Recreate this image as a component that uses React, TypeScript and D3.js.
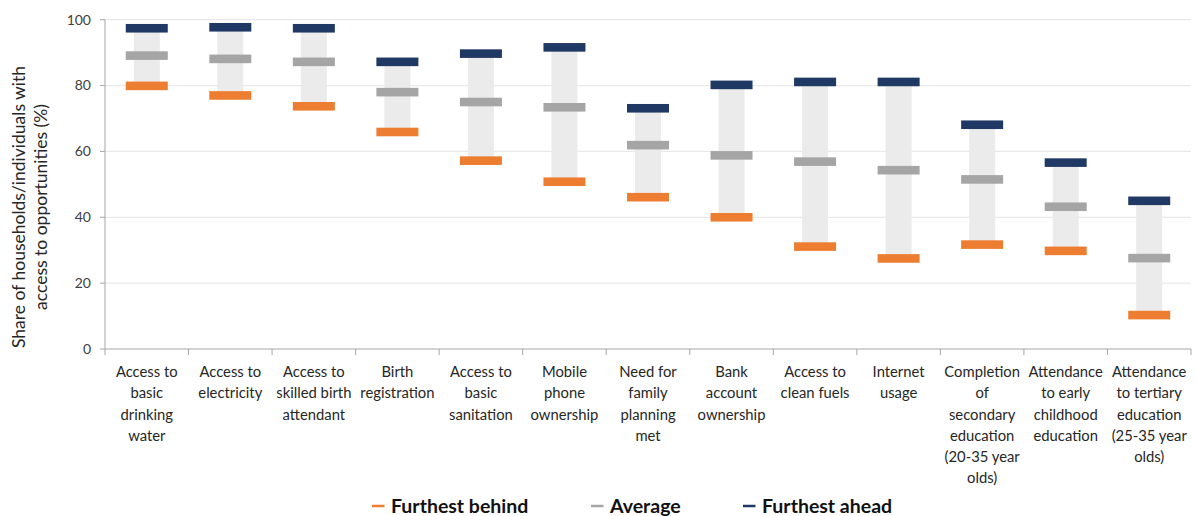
import * as d3 from 'd3';

const categories = [
  ['Access to', 'basic', 'drinking', 'water'],
  ['Access to', 'electricity'],
  ['Access to', 'skilled birth', 'attendant'],
  ['Birth', 'registration'],
  ['Access to', 'basic', 'sanitation'],
  ['Mobile', 'phone', 'ownership'],
  ['Need for', 'family', 'planning', 'met'],
  ['Bank', 'account', 'ownership'],
  ['Access to', 'clean fuels'],
  ['Internet', 'usage'],
  ['Completion', 'of', 'secondary', 'education', '(20-35 year', 'olds)'],
  ['Attendance', 'to early', 'childhood', 'education'],
  ['Attendance', 'to tertiary', 'education', '(25-35 year', 'olds)'],
];

const furthestBehind = [79.9, 77.0, 73.7, 65.9, 57.2, 50.8, 46.1, 40.0, 31.1, 27.5, 31.7, 29.8, 10.3];
const average = [89.1, 88.1, 87.2, 78.0, 75.0, 73.4, 61.9, 58.8, 56.9, 54.3, 51.5, 43.2, 27.6];
const furthestAhead = [97.4, 97.7, 97.4, 87.2, 89.7, 91.6, 73.1, 80.2, 81.1, 81.1, 68.1, 56.6, 45.0];

const yTicks = [0, 20, 40, 60, 80, 100];

const seriesNames = ['Furthest behind', 'Average', 'Furthest ahead'];
const seriesColors = ['#ED7D31', '#A5A5A5', '#203864'];

const W = 1197;
const H = 516;
const left = 105;
const right = 1191;
const top = 19.7;
const bottom = 349;
const font = 'Lato, "Open Sans", sans-serif';

export default function App() {
  const ids = categories.map((_, i) => String(i));
  const x = d3.scaleBand<string>().domain(ids).range([left, right]).padding(0);
  const y = d3.scaleLinear().domain([0, 100]).range([bottom, top]);
  const series = [furthestBehind, average, furthestAhead];
  const markW = 42;
  const markH = 8.6;
  const barW = 26;
  const bw = x.bandwidth();

  // legend swatch / text positions
  const legendX = [372, 591, 743];

  return (
    <svg
      width={W}
      height={H}
      style={{ position: 'absolute', left: 0, top: 0, background: '#fff' }}
      fontFamily={font}
    >
      {/* gridlines */}
      {yTicks.filter((t) => t > 0).map((t) => (
        <line key={t} x1={left} x2={right} y1={y(t)} y2={y(t)} stroke="#E9E9E9" strokeWidth={1.2} />
      ))}

      {/* range bars */}
      {ids.map((id, i) => (
        <rect
          key={'r' + id}
          x={x(id)! + bw / 2 - barW / 2}
          y={y(furthestAhead[i])}
          width={barW}
          height={y(furthestBehind[i]) - y(furthestAhead[i])}
          fill="#EBEBEB"
        />
      ))}

      {/* markers */}
      {series.map((vals, s) =>
        ids.map((id, i) => (
          <rect
            key={s + '-' + id}
            x={x(id)! + bw / 2 - markW / 2}
            y={y(vals[i]) - markH / 2}
            width={markW}
            height={markH}
            fill={seriesColors[s]}
          />
        ))
      )}

      {/* axes */}
      <line x1={left} x2={left} y1={top} y2={bottom} stroke="#A6A6A6" strokeWidth={1} />
      <line x1={left} x2={right} y1={bottom} y2={bottom} stroke="#A6A6A6" strokeWidth={1} />
      {yTicks.map((t) => (
        <g key={'yt' + t}>
          <line x1={left - 5} x2={left} y1={y(t)} y2={y(t)} stroke="#A6A6A6" />
          <text x={91} y={y(t)} dy="0.35em" textAnchor="end" fontSize={14} fill="#404040">
            {t}
          </text>
        </g>
      ))}
      {x.domain().concat(['end']).map((id, i) => {
        const xx = id === 'end' ? right : x(id)!;
        return <line key={'xt' + i} x1={xx} x2={xx} y1={bottom} y2={bottom + 6} stroke="#A6A6A6" />;
      })}

      {/* category labels */}
      {categories.map((lines, i) => (
        <text
          key={'c' + i}
          x={x(ids[i])! + bw / 2}
          y={372}
          textAnchor="middle"
          fontSize={14.8}
          fill="#262626"
        >
          {lines.map((l, j) => (
            <tspan key={j} x={x(ids[i])! + bw / 2} y={372 + j * 21.2} dy="0.35em">
              {l}
            </tspan>
          ))}
        </text>
      ))}

      {/* y axis title */}
      <text transform="translate(19,207) rotate(-90)" textAnchor="middle" fontSize={17.5} fill="#262626" dy="0.35em">
        Share of households/individuals  with
      </text>
      <text transform="translate(41,207) rotate(-90)" textAnchor="middle" fontSize={17.5} fill="#262626" dy="0.35em">
        access to opportunities (%)
      </text>

      {/* legend */}
      {seriesNames.map((name, s) => (
        <g key={'lg' + s}>
          <line
            x1={legendX[s]}
            x2={legendX[s] + 12.5}
            y1={506}
            y2={506}
            stroke={seriesColors[s]}
            strokeWidth={2.5}
          />
          <text x={legendX[s] + 19} y={506} dy="0.35em" fontSize={19.5} fontWeight="bold" fill="#111">
            {name}
          </text>
        </g>
      ))}
    </svg>
  );
}
